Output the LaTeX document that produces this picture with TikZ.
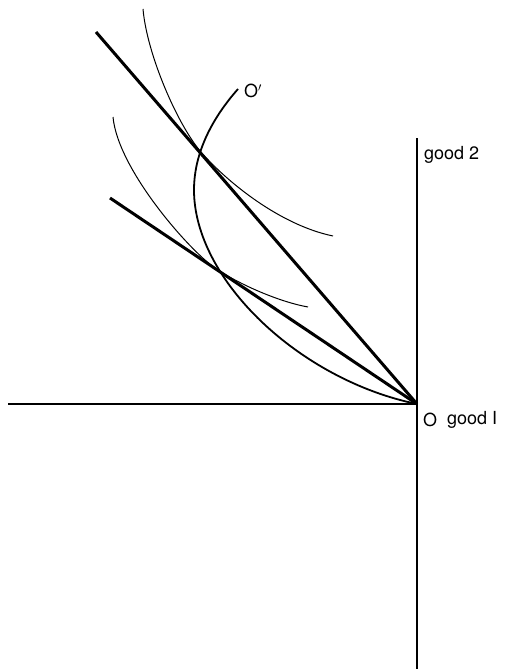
\documentclass[tikz,border=0pt]{standalone}
\usepackage{fontspec}
\setmainfont{TeX Gyre Heros}
\begin{document}
\begin{tikzpicture}[x=1pt,y=-1pt,
  axis/.style={line width=1.8pt},
  budget/.style={line width=3pt},
  indiff/.style={line width=1pt},
  offer/.style={line width=1.8pt},
  lbl/.style={font=\fontsize{18}{20}\selectfont, inner sep=0pt}]
\useasboundingbox (0,0) rectangle (520,669);
\coordinate (O) at (417,404);
\coordinate (xl) at (8,404);
\coordinate (yt) at (417,138);
\coordinate (yb) at (417,669);
\coordinate (b1) at (96,32);
\coordinate (b2) at (110,198);
% axes
\draw[axis] (xl) -- (O);
\draw[axis] (yt) -- (yb);
% budget lines
\draw[budget] (b1) -- (O);
\draw[budget] (b2) -- (O);
% indifference curves
\draw[indiff] (143,9) .. controls (147,55) and (178,125.5) .. (201,152)
  .. controls (227,182) and (280,225) .. (333,236);
\draw[indiff] (113,117) .. controls (118,170) and (190,251) .. (215,268)
  .. controls (240,285) and (280,302) .. (308,307);
% offer curve
\draw[offer] (238,89) .. controls (215,115) and (194,150) .. (194,190)
  .. controls (194,280) and (300,380) .. (O);
% labels
\node[lbl, anchor=west] (g2) at (424,155) {good 2};
\node[lbl, anchor=west] (o) at (423,420) {O};
\node[lbl, anchor=west] (g1) at (447,420) {good I};
\node[lbl, anchor=west] (op) at (244,91) {O$'$};
\end{tikzpicture}
\end{document}
